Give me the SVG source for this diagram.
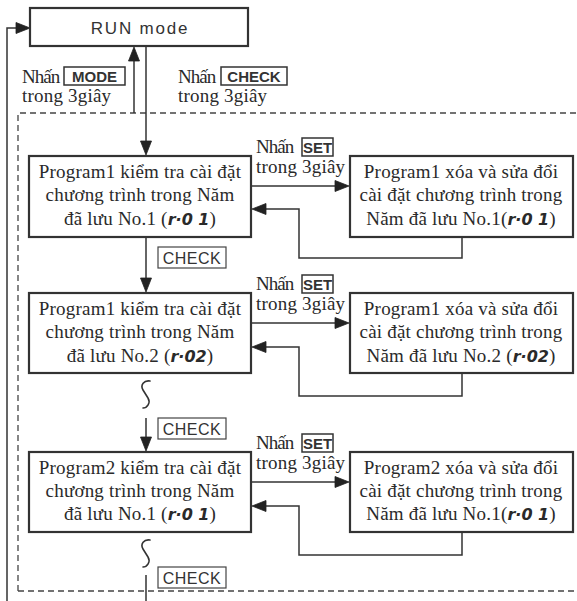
<svg xmlns="http://www.w3.org/2000/svg" width="577" height="601" viewBox="0 0 577 601">
<style>
.box{fill:#fff;stroke:#333;stroke-width:2.2}
.ln{fill:none;stroke:#333;stroke-width:1.5}
.sq{fill:none;stroke:#333;stroke-width:1.6;stroke-linecap:round}
.dash{fill:none;stroke:#444;stroke-width:1.3;stroke-dasharray:6 4}
.t{font-family:"Liberation Serif","Times New Roman",serif;font-size:19px;fill:#2a2a2a;letter-spacing:0.2px}
.nh{letter-spacing:-1px}
.tm{text-anchor:middle}
.seg{font-family:"DejaVu Sans",sans-serif;font-weight:bold;font-style:italic;font-size:16px;letter-spacing:0px}
.key{font-family:"Liberation Sans",Arial,sans-serif;font-weight:bold;font-size:15px;fill:#333;text-anchor:middle}
.kb{fill:#fff;stroke:#333;stroke-width:1.5}
.chk{font-family:"Liberation Sans",Arial,sans-serif;font-size:16px;fill:#333;text-anchor:middle;letter-spacing:0.5px}
.cb{fill:#fff;stroke:#444;stroke-width:1.2}
.ah{fill:#222;stroke:#222;stroke-width:0.8;stroke-linejoin:miter}
</style>

<g id="frame">
<path class="dash" d="M18,591 L18,113 L577,113"/>
<path class="dash" d="M18,591 L577,591"/>
</g>

<g id="connectors">
<path class="ln" d="M7,601 L7,28 L18,28"/>
<polygon class="ah" points="30,28 16,22.5 16,33.5"/>
<path class="ln" d="M134,113 L134,58"/>
<polygon class="ah" points="134,47 128.5,61 139.5,61"/>
<path class="ln" d="M146,46 L146,144"/>
<polygon class="ah" points="146,155 140.5,141 151.5,141"/>
<path class="ln" d="M146,237 L146,281"/>
<polygon class="ah" points="146,292 140.5,278 151.5,278"/>
<path class="ln" d="M146,418 L146,440"/>
<polygon class="ah" points="146,451 140.5,437 151.5,437"/>
<path class="ln" d="M146,575 L146,601"/>
<path class="sq" d="M150,381 C144,380 140,385 143,390 L148,398 C151,403 147,408 143,408"/>
<path class="sq" d="M150,540 C144,539 140,544 143,549 L148,557 C151,562 147,567 143,567"/>
<path class="ln" d="M251,186 L338,186"/>
<polygon class="ah" points="349,186 335,180.5 335,191.5"/>
<path class="ln" d="M462,237 L462,258 L299,258 L299,209 L263,209"/>
<polygon class="ah" points="252,209 266,203.5 266,214.5"/>
<path class="ln" d="M251,323 L338,323"/>
<polygon class="ah" points="349,323 335,317.5 335,328.5"/>
<path class="ln" d="M462,373 L462,396 L299,396 L299,347 L263,347"/>
<polygon class="ah" points="252,347 266,341.5 266,352.5"/>
<path class="ln" d="M251,482 L338,482"/>
<polygon class="ah" points="349,482 335,476.5 335,487.5"/>
<path class="ln" d="M462,532 L462,555 L299,555 L299,506 L263,506"/>
<polygon class="ah" points="252,506 266,500.5 266,511.5"/>
</g>

<g id="run">
<rect class="box" x="30" y="8" width="218" height="38"/>
<text x="140" y="34" font-family="Liberation Sans, Arial, sans-serif" font-size="17" fill="#333" text-anchor="middle" letter-spacing="1.8">RUN mode</text>
</g>

<g id="lbl-mode">
<text class="t nh" x="22" y="83">Nhấn</text>
<rect class="kb" x="64" y="67" width="61" height="18"/>
<text class="key" x="94.5" y="82">MODE</text>
<text class="t" x="22" y="102">trong 3giây</text>
</g>
<g id="lbl-check">
<text class="t nh" x="178" y="83">Nhấn</text>
<rect class="kb" x="221" y="67" width="66" height="18"/>
<text class="key" x="254" y="82">CHECK</text>
<text class="t" x="178" y="102">trong 3giây</text>
</g>

<g id="p1-check">
<rect class="box" x="29" y="156" width="222" height="81"/>
<text class="t tm" x="140" y="178">Program1 kiểm tra cài đặt</text>
<text class="t tm" x="140" y="201">chương trình trong Năm</text>
<text class="t tm" x="140" y="225">đã lưu No.1 (<tspan class="seg">r·0 1</tspan>)</text>
</g>
<g id="set1">
<text class="t nh" x="256" y="153">Nhấn</text>
<rect class="kb" x="302" y="138" width="31" height="18"/>
<text class="key" x="317.5" y="152.5" font-size="13">SET</text>
<text class="t" x="256" y="173">trong 3giây</text>
</g>
<g id="p1-edit">
<rect class="box" x="350" y="156" width="223" height="81"/>
<text class="t tm" x="461" y="178">Program1 xóa và sửa đổi</text>
<text class="t tm" x="461" y="201">cài đặt chương trình trong</text>
<text class="t tm" x="461" y="225">Năm đã lưu No.1(<tspan class="seg">r·0 1</tspan>)</text>
</g>
<g id="chk1">
<rect class="cb" x="158" y="247" width="68" height="21"/>
<text class="chk" x="192" y="264">CHECK</text>
</g>

<g id="p1-check2">
<rect class="box" x="29" y="293" width="222" height="80"/>
<text class="t tm" x="140" y="315">Program1 kiểm tra cài đặt</text>
<text class="t tm" x="140" y="338">chương trình trong Năm</text>
<text class="t tm" x="140" y="362">đã lưu No.2 (<tspan class="seg">r·02</tspan>)</text>
</g>
<g id="set2">
<text class="t nh" x="256" y="290">Nhấn</text>
<rect class="kb" x="302" y="275" width="31" height="18"/>
<text class="key" x="317.5" y="289.5" font-size="13">SET</text>
<text class="t" x="256" y="310">trong 3giây</text>
</g>
<g id="p1-edit2">
<rect class="box" x="350" y="293" width="223" height="80"/>
<text class="t tm" x="461" y="315">Program1 xóa và sửa đổi</text>
<text class="t tm" x="461" y="338">cài đặt chương trình trong</text>
<text class="t tm" x="461" y="362">Năm đã lưu No.2 (<tspan class="seg">r·02</tspan>)</text>
</g>
<g id="chk2">
<rect class="cb" x="158" y="418" width="68" height="21"/>
<text class="chk" x="192" y="435">CHECK</text>
</g>

<g id="p2-check">
<rect class="box" x="29" y="452" width="222" height="80"/>
<text class="t tm" x="140" y="474">Program2 kiểm tra cài đặt</text>
<text class="t tm" x="140" y="497">chương trình trong Năm</text>
<text class="t tm" x="140" y="520">đã lưu No.1 (<tspan class="seg">r·0 1</tspan>)</text>
</g>
<g id="set3">
<text class="t nh" x="256" y="449">Nhấn</text>
<rect class="kb" x="302" y="434" width="31" height="18"/>
<text class="key" x="317.5" y="448.5" font-size="13">SET</text>
<text class="t" x="256" y="469">trong 3giây</text>
</g>
<g id="p2-edit">
<rect class="box" x="350" y="452" width="223" height="80"/>
<text class="t tm" x="461" y="474">Program2 xóa và sửa đổi</text>
<text class="t tm" x="461" y="497">cài đặt chương trình trong</text>
<text class="t tm" x="461" y="520">Năm đã lưu No.1(<tspan class="seg">r·0 1</tspan>)</text>
</g>
<g id="chk3">
<rect class="cb" x="158" y="567" width="68" height="21"/>
<text class="chk" x="192" y="584">CHECK</text>
</g>
</svg>
